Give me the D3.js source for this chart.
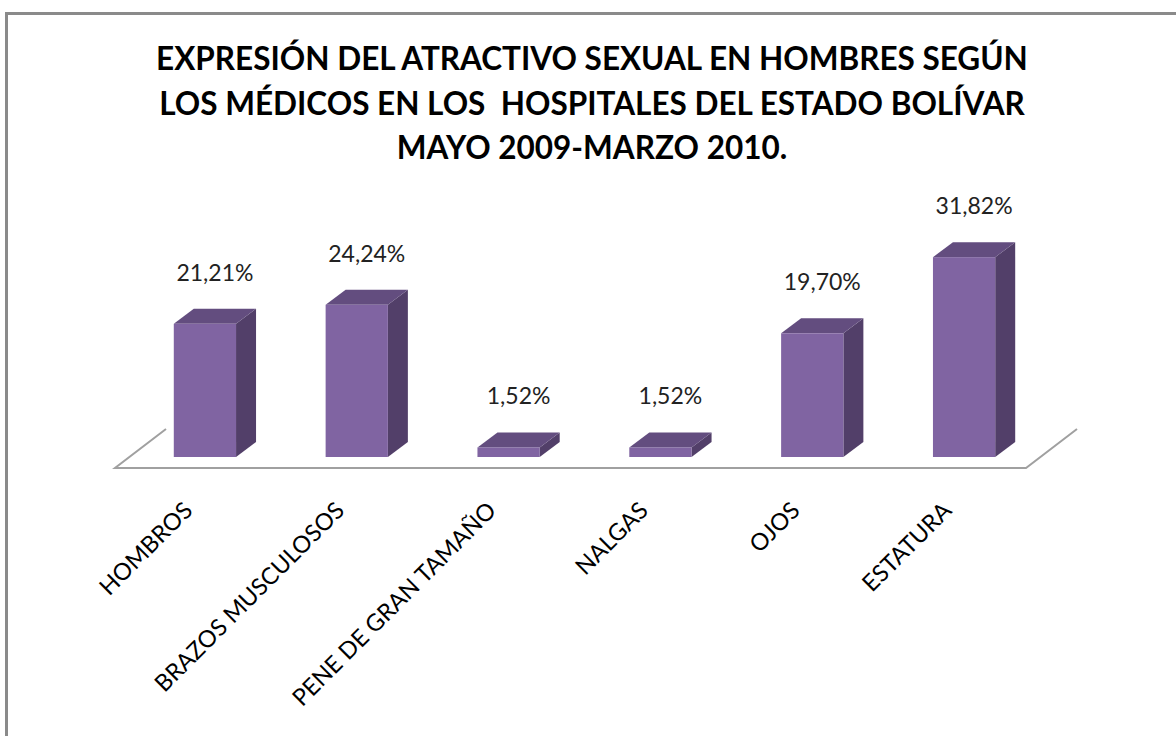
<!DOCTYPE html>
<html lang="es">
<head>
    <meta charset="UTF-8">
    <title>Atractivo sexual en hombres</title>
    <style>
        body { margin: 0; background: #fff; }
        text { font-family: Lato, "Open Sans", sans-serif; fill: #000; }
        .title { font-weight: bold; }
        .value { fill: #222; }
    </style>
</head>
<body>
    <div id="chart"></div>

    <script src="https://d3js.org/d3.v7.min.js"></script>
    <script>
        // data
        var categories = ["HOMBROS", "BRAZOS MUSCULOSOS", "PENE DE GRAN TAMAÑO", "NALGAS", "OJOS", "ESTATURA"];
        var values = [21.21, 24.24, 1.52, 1.52, 19.70, 31.82];
        var titleLines = [
            "EXPRESIÓN DEL ATRACTIVO SEXUAL EN HOMBRES SEGÚN",
            "LOS MÉDICOS EN LOS  HOSPITALES DEL ESTADO BOLÍVAR",
            "MAYO 2009-MARZO 2010."
        ];

        var width = 1176,
            height = 736;

        var svg = d3.select("#chart").append("svg")
            .attr("width", width)
            .attr("height", height);

        // chart frame (only top and left edges fall inside the picture)
        svg.append("rect")
            .attr("x", 6.5).attr("y", 13.5)
            .attr("width", width + 20).attr("height", height + 20)
            .attr("fill", "none")
            .attr("stroke", "#8a8a8a")
            .attr("stroke-width", 3);

        // title
        svg.append("g").selectAll("text")
            .data(titleLines)
            .enter().append("text")
            .attr("class", "title")
            .attr("x", 592)
            .attr("y", function(d, i) { return 70 + i * 44.5; })
            .attr("text-anchor", "middle")
            .style("font-size", "31.5px")
            .style("white-space", "pre")
            .text(function(d) { return d; });

        // floor of the 3d plot
        var floorY = 468;
        var x = d3.scaleBand()
            .domain(categories)
            .range([115, 1026])
            .paddingInner(0.59)
            .paddingOuter(0.295);

        var y = d3.scaleLinear()
            .domain([0, 35])
            .range([457, 457 - 35 * 6.28]);

        var floorDepth = [51, -39],   // full depth of the floor
            barShift = [14, -11],     // where the front of the bars sits
            barDepth = [20, -15];     // depth of each bar

        var r = x.range();
        svg.append("path")
            .attr("d", "M" + (r[0] + floorDepth[0]) + "," + (floorY + floorDepth[1]) +
                " L" + r[0] + "," + floorY +
                " L" + r[1] + "," + floorY +
                " L" + (r[1] + floorDepth[0]) + "," + (floorY + floorDepth[1]))
            .attr("fill", "none")
            .attr("stroke", "#a0a0a0")
            .attr("stroke-width", 2);

        var bars = svg.append("g")
            .selectAll("g")
            .data(values)
            .enter().append("g");

        function frontX(i) { return x(categories[i]) + barShift[0]; }
        var bw = x.bandwidth();

        // side face
        bars.append("path")
            .attr("fill", "#523f69")
            .attr("d", function(d, i) {
                var x1 = frontX(i) + bw, yt = y(d), yb = y(0);
                return "M" + x1 + "," + yt +
                    " L" + (x1 + barDepth[0]) + "," + (yt + barDepth[1]) +
                    " L" + (x1 + barDepth[0]) + "," + (yb + barDepth[1]) +
                    " L" + x1 + "," + yb + "Z";
            });

        // top face
        bars.append("path")
            .attr("fill", "#634d7f")
            .attr("d", function(d, i) {
                var x0 = frontX(i), yt = y(d);
                return "M" + x0 + "," + yt +
                    " L" + (x0 + barDepth[0]) + "," + (yt + barDepth[1]) +
                    " L" + (x0 + bw + barDepth[0]) + "," + (yt + barDepth[1]) +
                    " L" + (x0 + bw) + "," + yt + "Z";
            });

        // front face
        bars.append("rect")
            .attr("fill", "#8064a2")
            .attr("x", function(d, i) { return frontX(i); })
            .attr("y", function(d) { return y(d); })
            .attr("width", bw)
            .attr("height", function(d) { return y(0) - y(d); });

        // value labels
        bars.append("text")
            .attr("class", "value")
            .attr("x", function(d, i) { return frontX(i) + bw / 2 + 10; })
            .attr("y", function(d) { return y(d) + barDepth[1] - 28; })
            .attr("text-anchor", "middle")
            .style("font-size", "23px")
            .text(function(d) { return d.toFixed(2).replace(".", ",") + "%"; });

        // category labels, rotated
        svg.append("g").selectAll("text")
            .data(categories)
            .enter().append("text")
            .attr("text-anchor", "end")
            .attr("transform", function(d) {
                return "translate(" + (x(d) + x.bandwidth() / 2 + 3) + ",512) rotate(-45)";
            })
            .style("font-size", "23.5px")
            .text(function(d) { return d; });
    </script>
</body>
</html>
